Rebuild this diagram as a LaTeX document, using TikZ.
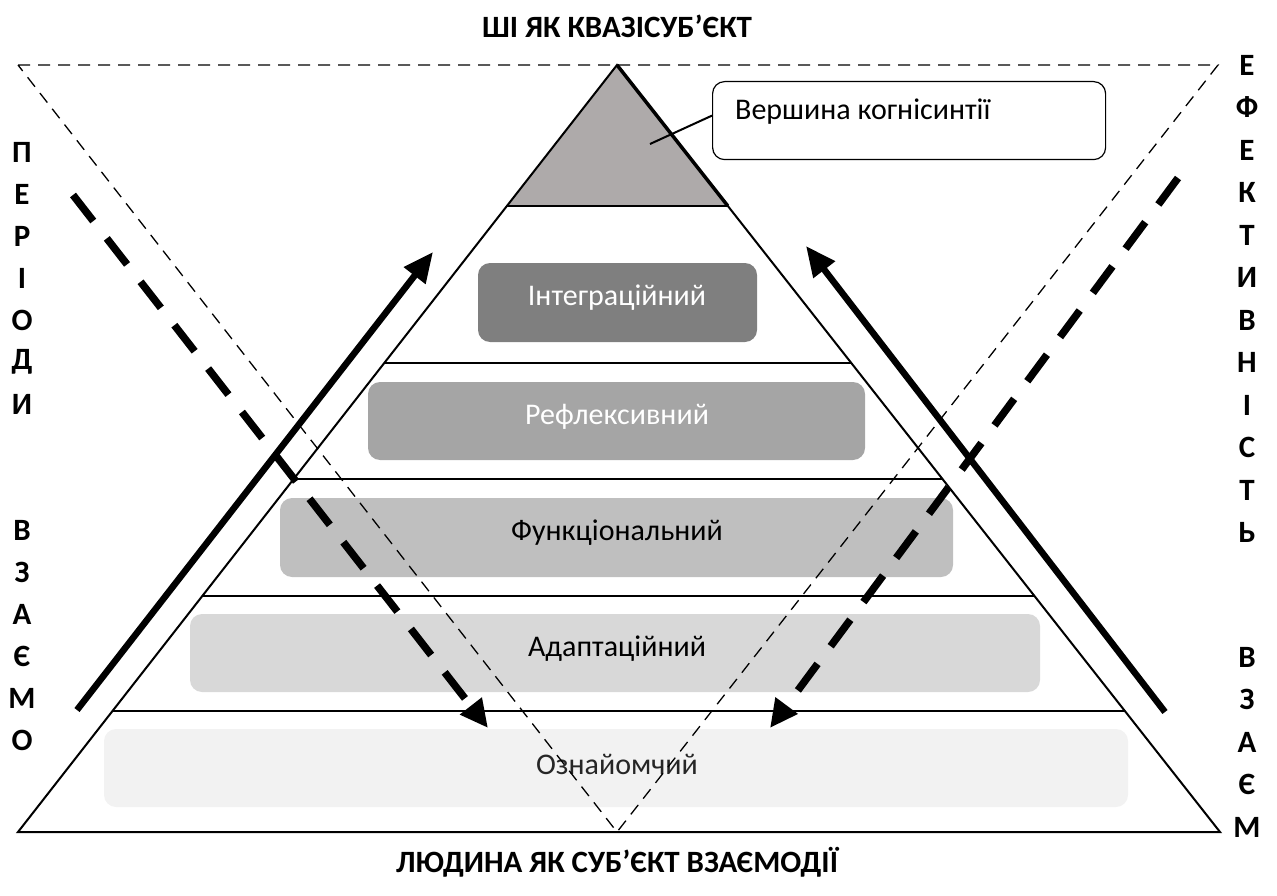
\documentclass[tikz,border=0pt]{standalone}
\usepackage{fontspec}
\setmainfont{Carlito}
\usetikzlibrary{arrows.meta,calc}
\definecolor{tipgray}{HTML}{AEAAAA}
\definecolor{lvA}{HTML}{7F7F7F}
\definecolor{lvB}{HTML}{A5A5A5}
\definecolor{lvC}{HTML}{BFBFBF}
\definecolor{lvD}{HTML}{D8D8D8}
\definecolor{lvE}{HTML}{F2F2F2}
\begin{document}
\begin{tikzpicture}[x=1pt,y=-1pt,
  every node/.style={font=\fontsize{30}{36}\selectfont},
  levelbox/.style={rounded corners=12pt, inner sep=0pt},
  letter/.style={font=\fontsize{31}{37}\selectfont\bfseries, inner sep=0pt},
  heading/.style={font=\fontsize{31}{37}\selectfont\bfseries},
  edge/.style={line width=2pt},
  guide/.style={line width=1.3pt, dash pattern=on 12pt off 8pt},
  solidarrow/.style={line width=6.5pt, -{Triangle[length=30pt,width=26pt]}},
  dasharrow/.style={line width=7.5pt, dash pattern=on 33pt off 22pt, -{Triangle[length=28pt,width=26pt]}}]
\useasboundingbox (0,0) rectangle (1277,896);

% pyramid corners
\coordinate (apex) at (617,65);
\coordinate (bl) at (18,832);
\coordinate (br) at (1220,832);

% level boxes
\fill[lvA, levelbox] (478,263) rectangle (757,342);
\node[text=white] (tInt) at (617,298) {Інтеграційний};
\fill[lvB, levelbox] (368,382) rectangle (865,460);
\node[text=white] (tRef) at (617,417) {Рефлексивний};
\fill[lvC, levelbox] (280,498) rectangle (953,577);
\node (tFun) at (617,533) {Функціональний};
\fill[lvD, levelbox] (190,614) rectangle (1040,692);
\node (tAda) at (617,649) {Адаптаційний};
\fill[lvE, levelbox] (104,729) rectangle (1128,807);
\node[text=black!85] (tOzn) at (617,764) {Ознайомчий};

% level lines
\coordinate (l1) at ($(apex)!0.1838!(bl)$); \coordinate (r1) at ($(apex)!0.1838!(br)$);
\coordinate (l2) at ($(apex)!0.3885!(bl)$); \coordinate (r2) at ($(apex)!0.3885!(br)$);
\coordinate (l3) at ($(apex)!0.5398!(bl)$); \coordinate (r3) at ($(apex)!0.5398!(br)$);
\coordinate (l4) at ($(apex)!0.6923!(bl)$); \coordinate (r4) at ($(apex)!0.6923!(br)$);
\coordinate (l5) at ($(apex)!0.8422!(bl)$); \coordinate (r5) at ($(apex)!0.8422!(br)$);

\fill[tipgray] (apex) -- (l1) -- (r1) -- cycle;
\draw[edge] (apex) -- (bl) -- (br) -- cycle;
\draw[line width=3.5pt] (apex) -- (r1);
\foreach \i in {1,...,5} { \draw[edge] (l\i) -- (r\i); }

% dashed inverted triangle
\coordinate (dl) at (18,65);
\coordinate (dr) at (1218,65);
\coordinate (db) at (617,832);
\draw[guide] (dl) -- (dr) -- (db) -- cycle;

% callout
\node[draw, line width=1.2pt, rounded corners=12pt, minimum width=393pt, minimum height=78pt, anchor=north west, inner sep=0pt] (cb) at (712,81) {};
\node[anchor=west, inner sep=0pt] (cbt) at (735,112) {Вершина когнісинтії};
\coordinate (cpt) at (650,144);
\draw[line width=2pt] (cpt) -- ([yshift=5pt]cb.west);

% arrows
\coordinate (a1s) at (77,710);  \coordinate (a1e) at (433,252);
\coordinate (a2s) at (1165,712); \coordinate (a2e) at (806,246);
\coordinate (a3s) at (73,195);  \coordinate (a3e) at (488,728);
\coordinate (a4s) at (1178,178); \coordinate (a4e) at (770,728);
\draw[solidarrow] (a1s) -- (a1e);
\draw[solidarrow] (a2s) -- (a2e);
\draw[dasharrow] (a3s) -- (a3e);
\draw[dasharrow] (a4s) -- (a4e);

% titles
\node[heading] (top) at (617,26) {ШІ ЯК КВАЗІСУБ’ЄКТ};
\node[heading] (bottom) at (617,862) {ЛЮДИНА ЯК СУБ’ЄКТ ВЗАЄМОДІЇ};

% left vertical letters
\foreach \ch [count=\k from 0] in {П,Е,Р,І,О,Д,И} {
  \node[letter] (lp\k) at (22,152+42*\k) {\ch};
}
\foreach \ch [count=\k from 0] in {В,З,А,Є,М,О} {
  \node[letter] (lv\k) at (22,530+42*\k) {\ch};
}
% right vertical letters
\foreach \ch [count=\k from 0] in {Е,Ф,Е,К,Т,И,В,Н,І,С,Т,Ь} {
  \node[letter] (re\k) at (1247,65+42.5*\k) {\ch};
}
\foreach \ch [count=\k from 0] in {В,З,А,Є,М} {
  \node[letter] (rv\k) at (1247,657+42.5*\k) {\ch};
}
\end{tikzpicture}
\end{document}
